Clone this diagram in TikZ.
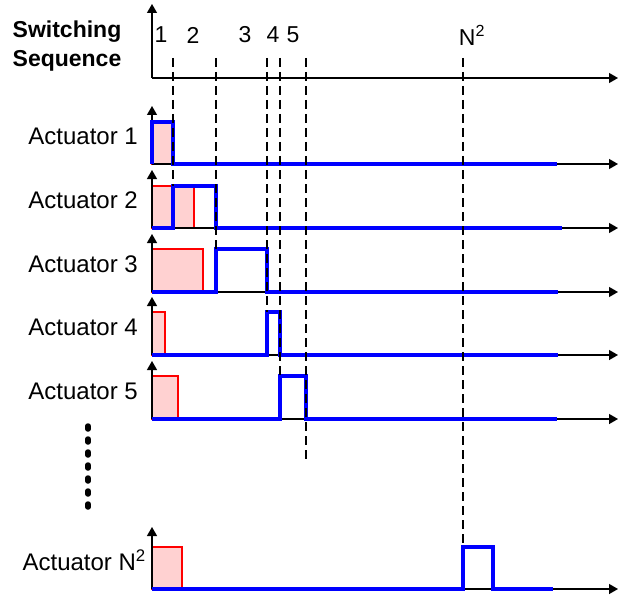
\documentclass[tikz,border=0pt]{standalone}
\usepackage{fontspec}
\setmainfont{Liberation Sans}
\usetikzlibrary{arrows.meta}

\begin{document}
\begin{tikzpicture}[x=1pt, y=-1pt, ax/.style={line width=1.3pt, -{Triangle[length=9pt,width=10pt]}}, sig/.style={blue, line width=3.6pt}, req/.style={draw=red, fill=red!18, line width=1.2pt}, sw/.style={dash pattern=on 9pt off 5pt, line width=2.3pt}, lbl/.style={anchor=east, inner sep=0pt, font=\fontsize{24}{26}\selectfont}, num/.style={inner sep=0pt, font=\fontsize{23}{26}\selectfont}]
		\useasboundingbox (0,0) rectangle (620,596);

		\coordinate (o0) at (152,78);
		\coordinate (o1) at (152,164);
		\coordinate (o2) at (152,228);
		\coordinate (o3) at (152,292);
		\coordinate (o4) at (152,355);
		\coordinate (o5) at (152,419);
		\coordinate (oN) at (152,589);

		\node[num, font=\fontsize{23}{29}\selectfont\bfseries, align=center] (title) at (67,46) {Switching\\Sequence};
		\node[num] (s1) at (161,35) {1};
		\node[num] (s2) at (193,35) {2};
		\node[num] (s3) at (245,35) {3};
		\node[num] (s4) at (273,35) {4};
		\node[num] (s5) at (293,35) {5};
		\node[num] (sN) at (472,35) {N\textsuperscript{2}};

		\node[lbl] (a1) at (138,136) {Actuator 1};
		\node[lbl] (a2) at (138,200) {Actuator 2};
		\node[lbl] (a3) at (138,264) {Actuator 3};
		\node[lbl] (a4) at (138,327) {Actuator 4};
		\node[lbl] (a5) at (138,391) {Actuator 5};
		\node[lbl] (aN) at (146,560) {Actuator N\textsuperscript{2}};

		% requested durations
		\draw[req] (o1) rectangle ++(21,-42);
		\draw[req] (o2) rectangle ++(42,-42);
		\draw[req] (o3) rectangle ++(51,-43);
		\draw[req] (o4) rectangle ++(13,-43);
		\draw[req] (o5) rectangle ++(26,-43);
		\draw[req] (oN) rectangle ++(30,-42);

		% axes
		\draw[ax] (o0) -- ++(0,-74);
		\draw[ax] (o0) -- (618,78);
		\draw[ax] (o1) -- ++(0,-58);
		\draw[ax] (o1) -- (618,164);
		\draw[ax] (o2) -- ++(0,-58);
		\draw[ax] (o2) -- (618,228);
		\draw[ax] (o3) -- ++(0,-58);
		\draw[ax] (o3) -- (618,292);
		\draw[ax] (o4) -- ++(0,-58);
		\draw[ax] (o4) -- (618,355);
		\draw[ax] (o5) -- ++(0,-58);
		\draw[ax] (o5) -- (618,419);
		\draw[ax] (oN) -- ++(0,-62);
		\draw[ax] (oN) -- (618,589);

		% switched outputs
		\draw[sig] (o1) -- ++(0,-42) -- ++(21,0) -- ++(0,42) -- (557,164);
		\draw[sig] (o2) -- ++(21,0) -- ++(0,-42) -- ++(43,0) -- ++(0,42) -- (562,228);
		\draw[sig] (o3) -- ++(64,0) -- ++(0,-43) -- ++(51,0) -- ++(0,43) -- (558,292);
		\draw[sig] (o4) -- ++(115,0) -- ++(0,-43) -- ++(13,0) -- ++(0,43) -- (558,355);
		\draw[sig] (o5) -- ++(128,0) -- ++(0,-43) -- ++(26,0) -- ++(0,43) -- (557,419);
		\draw[sig] (oN) -- ++(311,0) -- ++(0,-42) -- ++(30,0) -- ++(0,42) -- (553,589);

		% switching instants
		\draw[sw] (173,58) -- (173,186);
		\draw[sw] (216,58) -- (216,249);
		\draw[sw] (267,58) -- (267,312);
		\draw[sw] (280,58) -- (280,376);
		\draw[sw] (306,58) -- (306,462);
		\draw[sw] (463,58) -- (463,547);

		\draw[line width=5.5pt, line cap=round, dash pattern=on 3pt off 10pt] (88,426) -- (88,507);
	\end{tikzpicture}
\end{document}
